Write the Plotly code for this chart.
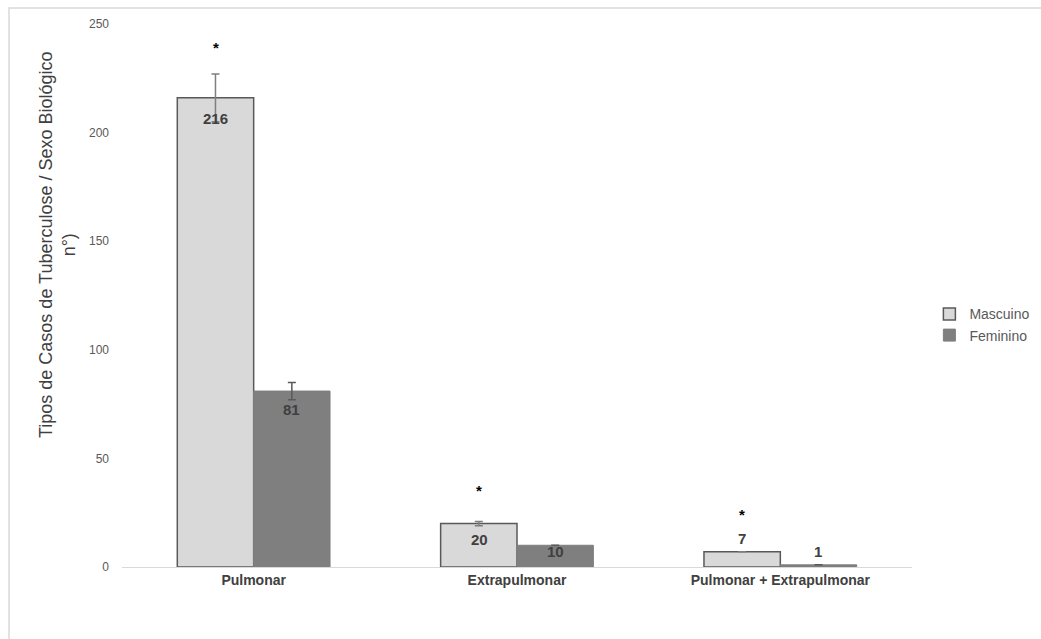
import plotly.graph_objects as go

categories = ["Pulmonar", "Extrapulmonar", "Pulmonar + Extrapulmonar"]
masculino = [216, 20, 7]
feminino = [81, 10, 1]
err_masc = [11, 1, 0]
err_fem = [4, 0, 0]
asterisk_y = [239, 35, 24]

series_names = ["Mascuino", "Feminino"]
# label vertical offsets in pixels (negative = inside bar, positive = above bar)
label_shift_m = [-21, -16, 13]
label_shift_f = [-18, -6, 13]

FONT = "Liberation Sans, Arial, sans-serif"

fig = go.Figure()
fig.add_trace(go.Bar(
    name=series_names[0], x=categories, y=masculino,
    marker=dict(color="#d9d9d9", line=dict(color="#595959", width=1.5)),
    error_y=dict(type="data", array=err_masc, color="#7f7f7f", thickness=1.5, width=4),
))
fig.add_trace(go.Bar(
    name=series_names[1], x=categories, y=feminino,
    marker=dict(color="#7f7f7f", line=dict(color="#7f7f7f", width=1)),
    error_y=dict(type="data", array=err_fem, color="#595959", thickness=1.5, width=4),
))

annotations = []
for vals, shifts, xs in [(masculino, label_shift_m, -38), (feminino, label_shift_f, 38)]:
    for c, v, s in zip(categories, vals, shifts):
        annotations.append(dict(x=c, y=v, xref="x", yref="y", text=str(v), showarrow=False,
                                xshift=xs, yshift=s,
                                font=dict(family=FONT, size=15, color="#404040", weight="bold")))

for c, a in zip(categories, asterisk_y):
    annotations.append(dict(x=c, y=a, xref="x", yref="y", text="<b>*</b>", showarrow=False,
                            xshift=-38, font=dict(family=FONT, size=15, color="#000000")))

annotations.append(dict(
    x=-0.112, y=0.593, xref="paper", yref="paper", textangle=-90, showarrow=False,
    text="Tipos de Casos de Tuberculose / Sexo Biológico<br>n°)",
    font=dict(family=FONT, size=18, color="#404040"), align="center",
))

fig.update_layout(
    template="none",
    width=1041, height=639,
    margin=dict(l=122, r=129, t=24, b=72, autoexpand=False),
    paper_bgcolor="white", plot_bgcolor="white",
    barmode="group", bargap=0.42, bargroupgap=0,
    font=dict(family=FONT, color="#595959"),
    showlegend=True,
    legend=dict(x=1.022, y=0.446, xanchor="left", yanchor="middle",
                font=dict(family=FONT, size=14, color="#595959"),
                itemwidth=30, tracegroupgap=4, bgcolor="rgba(0,0,0,0)"),
    annotations=annotations,
    shapes=[dict(type="path", xref="paper", yref="paper",
                 path="M -0.143,-0.2 L -0.143,1.0295 L 1.2,1.0295",
                 line=dict(color="#d9d9d9", width=1.5))],
)
fig.update_xaxes(showline=True, linecolor="#d9d9d9", linewidth=1, ticks="", showgrid=False,
                 tickfont=dict(family=FONT, size=14, color="#404040", weight="bold"))
fig.update_yaxes(range=[0, 250], dtick=50, showgrid=False, zeroline=False, showline=False,
                 ticks="", ticklabelstandoff=12,
                 tickfont=dict(family=FONT, size=12, color="#595959"))

fig.write_html("out.html")
